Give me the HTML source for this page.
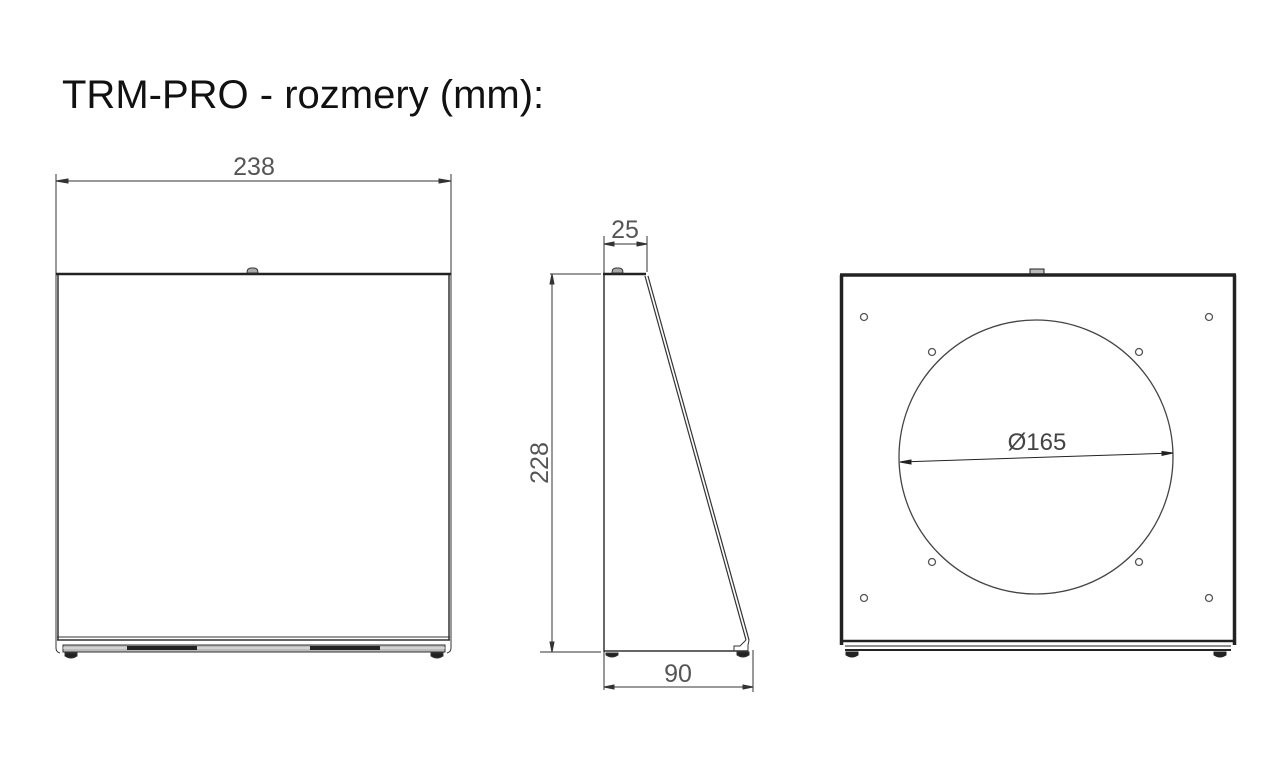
<!DOCTYPE html>
<html><head><meta charset="utf-8"><style>
html,body{margin:0;padding:0;background:#fff;width:1280px;height:769px;overflow:hidden}
svg{display:block}
</style></head><body>
<svg width="1280" height="769" viewBox="0 0 1280 769" xmlns="http://www.w3.org/2000/svg" font-family="Liberation Sans, sans-serif">
<text x="62" y="108" font-size="40" fill="#111">TRM-PRO - rozmery (mm):</text>

<!-- LEFT VIEW -->
<g stroke="#333" fill="none">
<line x1="56" y1="174" x2="56" y2="648" stroke-width="1"/>
<line x1="451" y1="174" x2="451" y2="648" stroke-width="1"/>
<line x1="56" y1="181" x2="451" y2="181" stroke-width="1"/>
<path d="M56 181 l12 -2 v4z M451 181 l-12 -2 v4z" fill="#333"/>
<line x1="56" y1="274" x2="451" y2="274" stroke-width="2.5" stroke="#222"/>
<path d="M247 273 q0 -5 4 -5 h3 q4 0 4 5z" fill="#aaa" stroke="#333"/>
<line x1="58" y1="275" x2="58" y2="640" stroke-width="1.5"/>
<line x1="449" y1="275" x2="449" y2="640" stroke-width="1.5"/>
<line x1="57" y1="637" x2="450" y2="637" stroke-width="1"/>
<line x1="57" y1="640" x2="450" y2="640" stroke-width="1.5"/>
<path d="M56 640 v8 q0 4 4 5 M451 640 v8 q0 4 -4 5"/>
<rect x="63" y="645" width="382" height="7" fill="#bbb" stroke-width="1"/>
<line x1="63" y1="648" x2="445" y2="648" stroke="#eee"/>
<rect x="127" y="646" width="70" height="4" fill="#222" stroke="none"/>
<rect x="310" y="646" width="70" height="4" fill="#222" stroke="none"/>
<path d="M65 653 h12 v3 q-6 4 -12 0z M431 653 h12 v3 q-6 4 -12 0z" fill="#222"/>
</g>
<text x="254" y="175" font-size="25" fill="#555" text-anchor="middle">238</text>

<!-- SIDE VIEW -->
<g stroke="#333" fill="none">
<line x1="604" y1="236" x2="604" y2="690"/>
<line x1="647" y1="236" x2="647" y2="272"/>
<line x1="604" y1="244" x2="647" y2="244"/>
<path d="M604 244 l10 -2 v4z M647 244 l-10 -2 v4z" fill="#333"/>
<line x1="550" y1="274" x2="601" y2="274"/>
<line x1="540" y1="652" x2="601" y2="652"/>
<line x1="552" y1="274" x2="552" y2="652"/>
<path d="M552 274 l-2 10 h4z M552 652 l-2 -10 h4z" fill="#333"/>
<line x1="604" y1="274" x2="604" y2="652" stroke-width="1.5"/>
<line x1="603" y1="274" x2="646" y2="274" stroke-width="2.5" stroke="#222"/>
<path d="M612 273 q0 -5 4 -5 h3 q4 0 4 5z" fill="#aaa"/>
<line x1="645" y1="276" x2="746" y2="640" stroke-width="1.2"/>
<line x1="648" y1="276" x2="749" y2="640" stroke-width="1.2"/>
<path d="M746 640 l-6 6 h-6 v5 h14 v-6 l1 -5"/>
<line x1="604" y1="651" x2="748" y2="651" stroke-width="1.5"/>
<path d="M606 653 h12 v2 q-6 4 -12 0z M737 652 h12 v3 q-6 4 -12 0z" fill="#222"/>
<line x1="753" y1="650" x2="753" y2="692"/>
<line x1="604" y1="687" x2="753" y2="687"/>
<path d="M604 687 l10 -2 v4z M753 687 l-10 -2 v4z" fill="#333"/>
</g>
<text x="625" y="238" font-size="25" fill="#555" text-anchor="middle">25</text>
<text x="678" y="682" font-size="25" fill="#555" text-anchor="middle">90</text>
<text transform="translate(548,463) rotate(-90)" font-size="25" fill="#555" text-anchor="middle">228</text>

<!-- RIGHT VIEW -->
<g stroke="#222" fill="none">
<rect x="1030" y="269" width="14" height="5" fill="#bbb" stroke-width="1"/>
<line x1="840" y1="275" x2="1236" y2="275" stroke-width="3.5"/>
<line x1="841.5" y1="275" x2="841.5" y2="645" stroke-width="3.5"/>
<line x1="1234.5" y1="275" x2="1234.5" y2="645" stroke-width="3.5"/>
<line x1="840" y1="641" x2="1236" y2="641" stroke-width="2.5"/>
<line x1="845" y1="646" x2="1231" y2="646" stroke-width="1"/>
<line x1="845" y1="650" x2="1231" y2="650" stroke-width="2"/>
<path d="M846 652 h12 v3 q-6 4 -12 0z M1214 652 h12 v3 q-6 4 -12 0z" fill="#222"/>
<g stroke="#555" stroke-width="1.3">
<circle cx="864" cy="317" r="3.5"/><circle cx="1209" cy="317" r="3.5"/>
<circle cx="864" cy="598" r="3.5"/><circle cx="1209" cy="598" r="3.5"/>
<circle cx="932" cy="352" r="3.5"/><circle cx="1139" cy="352" r="3.5"/>
<circle cx="932" cy="562" r="3.5"/><circle cx="1139" cy="562" r="3.5"/>
</g>
<circle cx="1036" cy="457" r="137" stroke="#444" stroke-width="1.3"/>
<line x1="900" y1="462" x2="1173" y2="453" stroke-width="1"/>
<path d="M900 462 l11 -2 v4z M1173 453 l-11 -1.6 v4z" fill="#222"/>
</g>
<text x="1037" y="450" font-size="24" fill="#444" text-anchor="middle">Ø165</text>
</svg>
</body></html>
